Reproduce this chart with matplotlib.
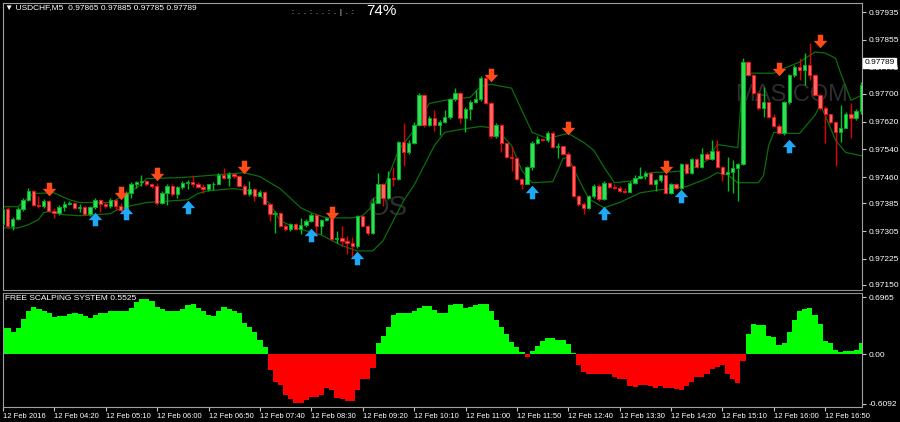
import numpy as np
import matplotlib.pyplot as plt
from matplotlib.path import Path
from matplotlib.transforms import blended_transform_factory

plt.rcParams['font.family'] = ['Liberation Sans', 'DejaVu Sans']

# USDCHF M5, prices in points (1e-5), one entry per bar
first_open = 97326
close_pts = [
    97369, 97320, 97340, 97369, 97395, 97421, 97381, 97378, 97392, 97364,
    97358, 97375, 97384, 97387, 97372, 97375, 97355, 97375, 97395, 97384,
    97378, 97395, 97378, 97366, 97415, 97441, 97446, 97450, 97439, 97436,
    97387, 97415, 97436, 97413, 97433, 97444, 97447, 97439, 97433, 97427,
    97439, 97441, 97467, 97459, 97470, 97462, 97436, 97413, 97427, 97407,
    97418, 97384, 97355, 97358, 97320, 97312, 97326, 97312, 97323, 97335,
    97352, 97320, 97338, 97343, 97283, 97286, 97277, 97271, 97263, 97349,
    97320, 97300, 97387, 97441, 97401, 97459, 97456, 97560, 97531, 97557,
    97609, 97695, 97609, 97629, 97609, 97618, 97632, 97684, 97701, 97629,
    97655, 97675, 97684, 97744, 97672, 97577, 97609, 97557, 97517, 97514,
    97456, 97441, 97488, 97557, 97571, 97566, 97586, 97548, 97551, 97528,
    97493, 97407, 97384, 97372, 97407, 97436, 97398, 97444, 97433, 97430,
    97421, 97418, 97444, 97459, 97462, 97473, 97441, 97453, 97465, 97415,
    97441, 97430, 97499, 97473, 97511, 97488, 97528, 97511, 97534, 97488,
    97470, 97476, 97485, 97499, 97791, 97753, 97701, 97658, 97675, 97632,
    97606, 97586, 97675, 97753, 97776, 97768, 97782, 97753, 97695, 97658,
    97641, 97618, 97589, 97600, 97641, 97629, 97649, 97724]
high_pts = [
    97378, 97375, 97346, 97375, 97401, 97430, 97424, 97407, 97398, 97395,
    97372, 97381, 97392, 97392, 97390, 97384, 97378, 97378, 97401, 97398,
    97390, 97401, 97398, 97387, 97421, 97447, 97450, 97467, 97453, 97444,
    97444, 97421, 97441, 97439, 97436, 97450, 97453, 97467, 97447, 97441,
    97441, 97447, 97473, 97485, 97476, 97473, 97465, 97441, 97450, 97430,
    97424, 97421, 97387, 97364, 97361, 97326, 97329, 97329, 97343, 97340,
    97358, 97355, 97340, 97346, 97346, 97306, 97320, 97291, 97289, 97352,
    97352, 97323, 97401, 97473, 97444, 97479, 97488, 97563, 97615, 97566,
    97618, 97701, 97695, 97635, 97652, 97623, 97652, 97687, 97716, 97704,
    97661, 97681, 97710, 97750, 97753, 97675, 97615, 97612, 97554, 97551,
    97517, 97459, 97493, 97563, 97577, 97574, 97592, 97592, 97557, 97551,
    97531, 97496, 97410, 97390, 97410, 97441, 97439, 97450, 97444, 97439,
    97436, 97430, 97450, 97465, 97488, 97479, 97476, 97456, 97467, 97467,
    97444, 97444, 97502, 97502, 97514, 97514, 97545, 97531, 97566, 97566,
    97491, 97517, 97508, 97502, 97802, 97794, 97756, 97704, 97719, 97678,
    97641, 97612, 97678, 97756, 97782, 97802, 97817, 97846, 97756, 97698,
    97664, 97643, 97620, 97667, 97646, 97672, 97655, 97733]
low_pts = [
    97317, 97314, 97309, 97338, 97364, 97392, 97378, 97372, 97372, 97361,
    97343, 97352, 97364, 97381, 97369, 97361, 97352, 97349, 97369, 97361,
    97372, 97372, 97366, 97361, 97361, 97401, 97430, 97436, 97436, 97430,
    97381, 97384, 97381, 97407, 97401, 97427, 97427, 97433, 97430, 97415,
    97421, 97424, 97439, 97456, 97436, 97459, 97433, 97410, 97407, 97392,
    97407, 97381, 97335, 97300, 97317, 97306, 97306, 97309, 97297, 97317,
    97332, 97291, 97297, 97335, 97277, 97271, 97263, 97239, 97228, 97257,
    97317, 97294, 97297, 97395, 97378, 97398, 97436, 97453, 97493, 97528,
    97554, 97606, 97603, 97606, 97594, 97580, 97615, 97626, 97678, 97615,
    97589, 97623, 97672, 97678, 97669, 97574, 97574, 97531, 97514, 97479,
    97453, 97427, 97439, 97482, 97554, 97563, 97560, 97545, 97514, 97525,
    97491, 97404, 97378, 97355, 97369, 97401, 97392, 97395, 97430, 97427,
    97418, 97415, 97418, 97441, 97456, 97456, 97439, 97421, 97447, 97413,
    97413, 97427, 97427, 97470, 97470, 97485, 97485, 97508, 97508, 97485,
    97450, 97421, 97415, 97392, 97496, 97750, 97698, 97652, 97632, 97629,
    97603, 97583, 97580, 97669, 97747, 97739, 97724, 97739, 97693, 97652,
    97557, 97612, 97493, 97560, 97600, 97574, 97623, 97643]

# channel lines (bar index, price in points)
upper_bar = [0, 3, 6, 10, 13, 15, 21, 24, 27, 28, 35, 42, 47, 50, 54, 58, 60, 63,
             68, 70, 72, 74, 77, 80, 83, 86, 91, 93, 95, 99, 101, 103, 106, 110,
             113, 115, 117, 119, 123, 126, 131, 134, 137, 139, 143, 144, 150, 152,
             155, 158, 160, 162, 163, 165, 167]
upper_pts = [97375, 97375, 97413, 97415, 97395, 97387, 97387, 97410, 97439, 97456,
             97459, 97467, 97473, 97462, 97427, 97372, 97358, 97343, 97343, 97349,
             97378, 97421, 97537, 97594, 97672, 97681, 97690, 97721, 97727, 97716,
             97652, 97589, 97571, 97586, 97560, 97537, 97488, 97444, 97450, 97473,
             97476, 97485, 97508, 97554, 97545, 97759, 97759, 97773, 97791, 97820,
             97817, 97802, 97759, 97681, 97695]
lower_bar = [0, 3, 5, 7, 8, 9, 12, 15, 21, 22, 25, 28, 33, 36, 38, 40, 45, 48, 50,
             52, 54, 57, 62, 66, 69, 72, 74, 76, 78, 80, 82, 84, 86, 89, 93, 96, 99,
             101, 103, 107, 108, 109, 110, 112, 114, 117, 120, 124, 128, 133, 137,
             139, 141, 143, 147, 148, 149, 150, 153, 155, 158, 159, 160, 162, 164, 167]
lower_pts = [97314, 97314, 97323, 97338, 97358, 97361, 97352, 97349, 97355, 97364,
             97378, 97387, 97392, 97395, 97413, 97421, 97427, 97421, 97407, 97384,
             97335, 97314, 97294, 97263, 97248, 97248, 97277, 97335, 97392, 97436,
             97493, 97551, 97589, 97597, 97606, 97600, 97551, 97479, 97444, 97447,
             97479, 97514, 97517, 97456, 97398, 97372, 97387, 97415, 97424, 97433,
             97456, 97473, 97467, 97444, 97444, 97465, 97551, 97589, 97586, 97586,
             97638, 97667, 97638, 97566, 97531, 97522]

# signal arrows (bar index, price in points)
sell_bar = [9, 23, 30, 47, 64, 95, 110, 129, 151, 159]
sell_pts = [97427, 97415, 97470, 97488, 97358, 97753, 97600, 97488, 97770, 97851]
buy_bar = [18, 24, 36, 60, 69, 103, 117, 132, 153]
buy_pts = [97340, 97358, 97375, 97294, 97228, 97418, 97358, 97407, 97551]

# FREE SCALPING SYSTEM histogram
fss = [0.32, 0.32, 0.27, 0.32, 0.43, 0.52, 0.57, 0.55, 0.52, 0.50,
       0.45, 0.46, 0.47, 0.49, 0.50, 0.49, 0.47, 0.44, 0.48, 0.50,
       0.50, 0.52, 0.53, 0.52, 0.53, 0.56, 0.64, 0.67, 0.67, 0.65,
       0.58, 0.55, 0.52, 0.52, 0.53, 0.55, 0.60, 0.61, 0.56, 0.52,
       0.48, 0.47, 0.52, 0.58, 0.55, 0.52, 0.50, 0.38, 0.33, 0.27,
       0.17, 0.08, -0.20, -0.34, -0.38, -0.50, -0.55, -0.60, -0.60, -0.56,
       -0.52, -0.52, -0.50, -0.41, -0.44, -0.54, -0.55, -0.57, -0.57, -0.44,
       -0.31, -0.31, -0.17, 0.13, 0.22, 0.33, 0.48, 0.50, 0.50, 0.50,
       0.52, 0.56, 0.59, 0.59, 0.54, 0.50, 0.50, 0.60,
       0.61, 0.61, 0.56, 0.57, 0.60, 0.61, 0.61, 0.52, 0.42, 0.33,
       0.24, 0.15, 0.09, 0.02, -0.04, 0.04, 0.10, 0.16, 0.19, 0.20,
       0.17, 0.17, 0.12, 0.01, -0.13, -0.22, -0.24, -0.24, -0.24, -0.24,
       -0.24, -0.28, -0.31, -0.31, -0.39, -0.40, -0.38, -0.38, -0.39, -0.42,
       -0.39, -0.41, -0.42, -0.43, -0.44, -0.39, -0.34, -0.28, -0.28, -0.24,
       -0.18, -0.16, -0.13, -0.24, -0.30, -0.36, -0.09, 0.25, 0.37, 0.35,
       0.35, 0.22, 0.21, 0.11, 0.13, 0.27, 0.42, 0.52, 0.55, 0.56,
       0.48, 0.37, 0.16, 0.14, 0.05, 0.02, 0.04, 0.04, 0.05, 0.14]

price_ticks = [0.97935, 0.97855, 0.97775, 0.97700, 0.97620, 0.97540,
               0.97460, 0.97385, 0.97305, 0.97225, 0.97150]
time_labels = ['12 Feb 2016', '12 Feb 04:20', '12 Feb 05:10', '12 Feb 06:00',
               '12 Feb 06:50', '12 Feb 07:40', '12 Feb 08:30', '12 Feb 09:20',
               '12 Feb 10:10', '12 Feb 11:00', '12 Feb 11:50', '12 Feb 12:40',
               '12 Feb 13:30', '12 Feb 14:20', '12 Feb 15:10', '12 Feb 16:00',
               '12 Feb 16:50']
last_price = 0.97789

close = np.array(close_pts) / 1e5
high = np.array(high_pts) / 1e5
low = np.array(low_pts) / 1e5
opn = np.concatenate([[first_open / 1e5], close[:-1]])
high = np.maximum(high, np.maximum(opn, close))
low = np.minimum(low, np.minimum(opn, close))
idx = np.arange(len(close))

W, H = 900, 422
fig = plt.figure(figsize=(9, 4.22), dpi=100, facecolor='black')
ax = fig.add_axes([3 / W, 1 - 290 / H, 859 / W, 287 / H], facecolor='black')
ax2 = fig.add_axes([3 / W, 1 - 407 / H, 859 / W, 114 / H], facecolor='black')

# faint watermark
ax.text(0.448, 0.285, 'OS', transform=ax.transAxes, color='#2E2E2E',
        fontsize=20, ha='center', va='center', zorder=0)
ax.text(0.918, 0.68, 'MAS.COM', transform=ax.transAxes, color='#2E2E2E',
        fontsize=17, ha='center', va='center', zorder=0)

# candles
up = close >= opn
ax.vlines(idx[up], low[up], high[up], color='#00C020', lw=1, zorder=2)
ax.vlines(idx[~up], low[~up], high[~up], color='#E00000', lw=1, zorder=2)
body_lo = np.minimum(opn, close)
body_h = np.maximum(np.abs(close - opn), 0.8e-5)
ax.bar(idx[up], body_h[up], bottom=body_lo[up], width=0.64,
       color='#33DD55', edgecolor='#00B020', lw=0.7, zorder=3)
ax.bar(idx[~up], body_h[~up], bottom=body_lo[~up], width=0.64,
       color='#F46A6A', edgecolor='#F01010', lw=0.7, zorder=3)

# channel
ax.plot(upper_bar, np.array(upper_pts) / 1e5, color='#0A6E0A', lw=0.9, zorder=1)
ax.plot(lower_bar, np.array(lower_pts) / 1e5, color='#0A6E0A', lw=0.9, zorder=1)

# arrows
down_arrow = Path([(-0.2, 0.5), (0.2, 0.5), (0.2, 0.05), (0.5, 0.05), (0, -0.5),
                   (-0.5, 0.05), (-0.2, 0.05), (-0.2, 0.5)])
up_arrow = Path([(x, -y) for x, y in down_arrow.vertices])
ax.scatter(sell_bar, np.array(sell_pts) / 1e5, marker=down_arrow, s=95,
           color='#FF4A1A', lw=0, zorder=4)
ax.scatter(buy_bar, np.array(buy_pts) / 1e5, marker=up_arrow, s=95,
           color='#1EA8F5', lw=0, zorder=4)

ax.set_xlim(0.1, 167.15)
ax.set_ylim(0.971355, 0.979609)
ax.set_xticks([])
ax.yaxis.tick_right()
ax.set_yticks(price_ticks)
ax.set_yticklabels(['%.5f' % p for p in price_ticks])
ax.tick_params(axis='y', colors='#C8C8C8', labelcolor='white', labelsize=6,
               length=3, width=0.8, pad=2)
for s in ['left', 'top', 'right']:
    ax.spines[s].set_color('#A0A0A0')
ax.spines['bottom'].set_color('#909090')
ax.spines['bottom'].set_linestyle((0, (1, 1)))

# current price box
tr = blended_transform_factory(ax.transAxes, ax.transData)
ax.text(1.003, last_price, '%.5f' % last_price, transform=tr, color='black',
        fontsize=6, va='center', ha='left', clip_on=False, zorder=10,
        bbox=dict(boxstyle='square,pad=0.15', fc='white', ec='white'))

# histogram panel
fss = np.array(fss)
ax2.bar(idx, fss, width=1.0, color=np.where(fss >= 0, '#00FF00', '#FF0000'),
        lw=0, zorder=2)
ax2.set_xlim(0.1, 167.15)
ax2.set_ylim(-0.648, 0.746)
ax2.yaxis.tick_right()
ax2.set_yticks([0.6965, 0.0, -0.6092])
ax2.set_yticklabels(['0.6965', '0.00', '-0.6092'])
ax2.set_xticks(np.arange(0, 161, 10))
ax2.set_xticklabels(time_labels)
for lbl in ax2.get_xticklabels():
    lbl.set_ha('left')
ax2.tick_params(axis='y', colors='#C8C8C8', labelcolor='white', labelsize=6,
                length=3, width=0.8, pad=2)
ax2.tick_params(axis='x', colors='#C8C8C8', labelcolor='white', labelsize=5.5,
                length=3, width=0.8, pad=1)
for s in ['left', 'bottom', 'right']:
    ax2.spines[s].set_color('#A0A0A0')
ax2.spines['top'].set_color('#909090')
ax2.spines['top'].set_linestyle((0, (1, 1)))

# texts
fig.text(5 / W, 1 - 8 / H, '\u25bc USDCHF,M5  0.97865 0.97885 0.97785 0.97789',
         color='white', fontsize=6, va='center', ha='left')
fig.text(5 / W, 1 - 299 / H, 'FREE SCALPING SYSTEM 0.5525',
         color='white', fontsize=6, va='center', ha='left')
fig.text(292 / W, 1 - 12 / H, ':  .  .  :  .  .  :  .  |  .  :',
         color='white', fontsize=5, va='center', ha='left')
fig.text(366 / W, 1 - 11 / H, '74%', color='white', fontsize=11,
         va='center', ha='left')

fig.savefig('out.png', dpi=100, facecolor='black')
